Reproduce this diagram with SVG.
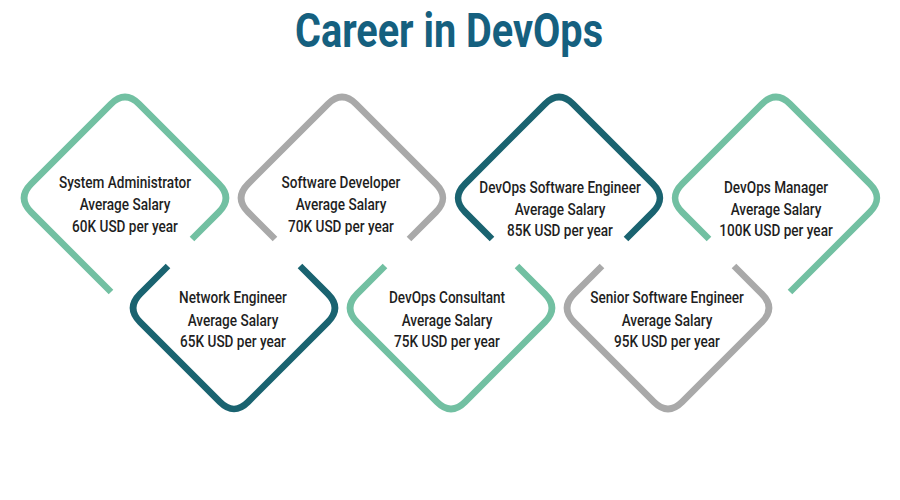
<svg xmlns="http://www.w3.org/2000/svg" width="900" height="500" viewBox="0 0 900 500">
<style>
.ring{fill:none;stroke-width:6.5;stroke-linecap:butt;stroke-linejoin:round}
.lt{stroke:#72c0a2}
.dk{stroke:#1a6370}
.gr{stroke:#a9a9a9}
.lbl{font-family:Roboto,"Liberation Sans",sans-serif;font-size:16px;font-weight:500;fill:#1f1f1f;text-anchor:middle}
.title{font-family:Roboto,"Liberation Sans",sans-serif;font-weight:bold;font-size:48px;fill:#15607f;text-anchor:middle}
</style>
<rect width="900" height="500" fill="#ffffff"/>
<text class="title" x="449" y="47" textLength="308" lengthAdjust="spacingAndGlyphs">Career in DevOps</text>

<g id="system-administrator">
<path class="ring lt" d="M 111 292 L 31.14 212.14 Q 17 198 31.14 183.86 L 110.86 104.14 Q 125 90 139.14 104.14 L 218.86 183.86 Q 233 198 218.86 212.14 L 192 239"/>
<text class="lbl" transform="translate(125 0) scale(0.85 1)"><tspan x="0" y="188">System Administrator</tspan><tspan x="0" y="210">Average Salary</tspan><tspan x="0" y="232">60K USD per year</tspan></text>
</g>

<g id="software-developer">
<path class="ring gr" d="M 275 239 L 248.14 212.14 Q 234 198 248.14 183.86 L 327.86 104.14 Q 342 90 356.14 104.14 L 435.86 183.86 Q 450 198 435.86 212.14 L 409 239"/>
<text class="lbl" transform="translate(341 0) scale(0.85 1)"><tspan x="0" y="188">Software Developer</tspan><tspan x="0" y="210">Average Salary</tspan><tspan x="0" y="232">70K USD per year</tspan></text>
</g>

<g id="devops-software-engineer">
<path class="ring dk" d="M 492 239 L 465.14 212.14 Q 451 198 465.14 183.86 L 544.86 104.14 Q 559 90 573.14 104.14 L 652.86 183.86 Q 667 198 652.86 212.14 L 626 239"/>
<text class="lbl" transform="translate(560 0) scale(0.85 1)"><tspan x="0" y="193">DevOps Software Engineer</tspan><tspan x="0" y="215">Average Salary</tspan><tspan x="0" y="236">85K USD per year</tspan></text>
</g>

<g id="devops-manager">
<path class="ring lt" d="M 709 239 L 682.14 212.14 Q 668 198 682.14 183.86 L 761.86 104.14 Q 776 90 790.14 104.14 L 869.86 183.86 Q 884 198 869.86 212.14 L 790 292"/>
<text class="lbl" transform="translate(776 0) scale(0.85 1)"><tspan x="0" y="193">DevOps Manager</tspan><tspan x="0" y="215">Average Salary</tspan><tspan x="0" y="236">100K USD per year</tspan></text>
</g>

<g id="network-engineer">
<path class="ring dk" d="M 168 266 L 140.14 293.86 Q 126 308 140.14 322.14 L 219.86 401.86 Q 234 416 248.14 401.86 L 327.86 322.14 Q 342 308 327.86 293.86 L 300 266"/>
<text class="lbl" transform="translate(233 0) scale(0.85 1)"><tspan x="0" y="303">Network Engineer</tspan><tspan x="0" y="326">Average Salary</tspan><tspan x="0" y="347">65K USD per year</tspan></text>
</g>

<g id="devops-consultant">
<path class="ring lt" d="M 385 266 L 357.14 293.86 Q 343 308 357.14 322.14 L 436.86 401.86 Q 451 416 465.14 401.86 L 544.86 322.14 Q 559 308 544.86 293.86 L 517 266"/>
<text class="lbl" transform="translate(447 0) scale(0.85 1)"><tspan x="0" y="303">DevOps Consultant</tspan><tspan x="0" y="326">Average Salary</tspan><tspan x="0" y="347">75K USD per year</tspan></text>
</g>

<g id="senior-software-engineer">
<path class="ring gr" d="M 602 266 L 574.14 293.86 Q 560 308 574.14 322.14 L 653.86 401.86 Q 668 416 682.14 401.86 L 761.86 322.14 Q 776 308 761.86 293.86 L 734 266"/>
<text class="lbl" transform="translate(667 0) scale(0.85 1)"><tspan x="0" y="303">Senior Software Engineer</tspan><tspan x="0" y="326">Average Salary</tspan><tspan x="0" y="347">95K USD per year</tspan></text>
</g>
</svg>
